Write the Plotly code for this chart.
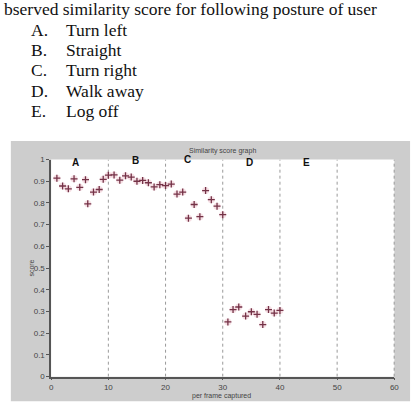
import plotly.graph_objects as go

# ---- data ----
frames = [1, 2, 3, 4, 5, 6, 6.4, 7.4, 8.4, 9.1, 10,
          11, 12, 13, 14, 15, 16, 17, 18, 19, 20, 21,
          22, 23, 24, 25, 26, 27, 28, 29, 30,
          30.9, 31.8, 32.8, 34, 35, 36, 37, 38, 39, 40]
scores = [0.914, 0.878, 0.865, 0.911, 0.872, 0.907, 0.796, 0.850, 0.862, 0.909, 0.928,
          0.929, 0.905, 0.925, 0.919, 0.900, 0.904, 0.893, 0.874, 0.884, 0.880, 0.887,
          0.841, 0.850, 0.730, 0.793, 0.737, 0.857, 0.815, 0.785, 0.746,
          0.252, 0.309, 0.321, 0.279, 0.299, 0.287, 0.240, 0.309, 0.293, 0.305]
region_labels = ["A", "B", "C", "D", "E"]
region_label_x = [4.3, 14.7, 23.8, 34.6, 44.6]
region_label_y = [0.986, 0.995, 1.0, 0.986, 0.986]
divider_x = [10, 20, 30, 40, 50]
x_ticks = [0, 10, 20, 30, 40, 50, 60]
y_ticks = [0, 0.1, 0.2, 0.3, 0.4, 0.5, 0.6, 0.7, 0.8, 0.9, 1]
y_tick_text = ["0", "0.1", "0.2", "0.3", "0.4", "0.5", "0.6", "0.7", "0.8", "0.9", "1"]
header_lines = ["bserved similarity score for following posture of user"]
list_letters = ["A.", "B.", "C.", "D.", "E."]
list_items = ["Turn left", "Straight", "Turn right", "Walk away", "Log off"]

W, H = 419, 412
def px(x):
    return x / W
def py(y):
    return (H - y) / H

fig = go.Figure()
# soft halo (scan blur)
fig.add_trace(go.Scatter(x=frames, y=scores, mode="markers", hoverinfo="skip",
                         marker=dict(symbol="circle", size=7, color="rgba(225,150,165,0.3)",
                                     line=dict(width=0))))
fig.add_trace(go.Scatter(x=frames, y=scores, mode="markers",
                         marker=dict(symbol="cross-thin", size=5,
                                     line=dict(width=1.3, color="#743247"))))

shapes = [
    dict(type="rect", xref="paper", yref="paper", x0=px(9), x1=px(415), y0=py(406), y1=py(140),
         fillcolor="#cdcdcd", line=dict(width=0), layer="below"),
    dict(type="rect", xref="paper", yref="paper", x0=px(50), x1=px(399), y0=py(381), y1=py(159),
         fillcolor="white", line=dict(width=0), layer="below"),
]
for dx in divider_x:
    shapes.append(dict(type="line", xref="x", yref="y", x0=dx, x1=dx, y0=0, y1=1,
                       line=dict(color="#9a9a9a", width=1, dash="dot"), layer="below"))
shapes.append(dict(type="line", xref="x", yref="y", x0=60, x1=60, y0=0, y1=1,
                   line=dict(color="#333333", width=1, dash="dot")))

annotations = []
annotations.append(dict(text=header_lines[0], xref="paper", yref="paper", x=0, y=py(5.5),
                        xanchor="left", yanchor="middle", showarrow=False,
                        font=dict(family="Liberation Serif", size=17.5, color="#111")))
for i, (l, t) in enumerate(zip(list_letters, list_items)):
    yc = 26.5 + i * 20.7
    annotations.append(dict(text=l, xref="paper", yref="paper", x=px(27), y=py(yc),
                            xanchor="left", yanchor="middle", showarrow=False,
                            font=dict(family="Liberation Serif", size=17.5, color="#111")))
    annotations.append(dict(text=t, xref="paper", yref="paper", x=px(63), y=py(yc),
                            xanchor="left", yanchor="middle", showarrow=False,
                            font=dict(family="Liberation Serif", size=17.5, color="#111")))
for lab, lx, ly in zip(region_labels, region_label_x, region_label_y):
    annotations.append(dict(text="<b>%s</b>" % lab, xref="x", yref="y", x=lx, y=ly,
                            xanchor="center", yanchor="middle", showarrow=False,
                            font=dict(family="Liberation Sans", size=10, color="#111")))
annotations.append(dict(text="Similarity score graph", xref="paper", yref="paper",
                        x=px(224), y=py(150), xanchor="center", yanchor="middle",
                        showarrow=False, font=dict(family="Liberation Sans", size=7, color="#444")))
annotations.append(dict(text="score", xref="paper", yref="paper", x=px(30), y=py(270),
                        xanchor="center", yanchor="middle", textangle=-90,
                        showarrow=False, font=dict(family="Liberation Sans", size=7, color="#444")))
annotations.append(dict(text="per frame captured", xref="paper", yref="paper",
                        x=px(223), y=py(401), xanchor="center", yanchor="middle",
                        showarrow=False, font=dict(family="Liberation Sans", size=7, color="#444")))

fig.update_layout(
    width=W, height=H, margin=dict(l=0, r=0, t=0, b=0),
    paper_bgcolor="white", plot_bgcolor="rgba(0,0,0,0)",
    showlegend=False, shapes=shapes, annotations=annotations,
    xaxis=dict(domain=[px(50), px(399)], range=[0, 60], tickvals=x_ticks,
               showgrid=False, zeroline=False, showline=True, linecolor="#555", linewidth=1.5,
               ticks="outside", ticklen=2, tickcolor="#555",
               tickfont=dict(family="Liberation Sans", size=8, color="#444")),
    yaxis=dict(domain=[py(381), py(159)], range=[0, 1], tickvals=y_ticks, ticktext=y_tick_text,
               showgrid=False, zeroline=False, showline=True, linecolor="#555", linewidth=1.5,
               ticks="outside", ticklen=3, tickcolor="#555",
               tickfont=dict(family="Liberation Sans", size=8, color="#444")),
)
fig.write_html("out.html")
